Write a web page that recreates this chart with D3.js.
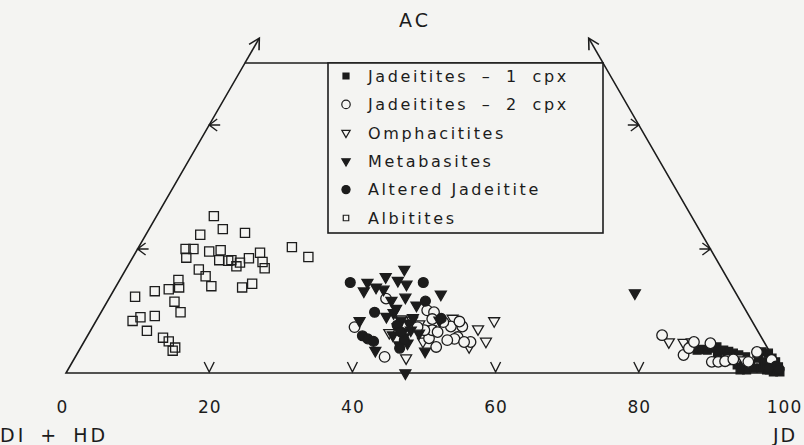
<!DOCTYPE html>
<html>
<head>
<meta charset="utf-8">
<script src="https://cdn.jsdelivr.net/npm/d3@7"></script>
<style>
  html, body { margin: 0; padding: 0; background: #f4f4f2; }
  svg { display: block; }
  text { font-family: "DejaVu Sans", sans-serif; fill: #1c1c1c; }
</style>
</head>
<body>
<div id="chart"></div>
<script>
// Ternary points as [JD, AC] in percent (DI + HD is the rest)
const jadeitites1 = [
    [86.3, 3.7], [86.9, 3.8], [87.7, 3.7], [88.8, 4.2], [90.0, 3.7], [91.6, 3.2], [92.5, 2.9],
    [93.6, 2.6], [94.9, 3.2], [95.5, 3.4], [96.5, 3.2], [97.4, 2.4], [98.2, 1.8], [99.0, 1.0],
    [99.6, 0.2], [98.7, 0.2], [97.6, 0.5], [96.6, 0.8], [95.6, 0.8], [94.8, 0.5], [93.9, 0.5],
    [93.1, 1.3], [93.5, 1.8], [88.2, 4.0], [90.8, 3.5], [94.9, 1.4], [96.5, 1.8], [98.4, 1.1],
    [89.5, 3.0], [91.0, 2.6], [95.5, 2.4], [97.0, 1.4], [98.0, 0.5], [92.4, 2.0]
];
const jadeitites2 = [
    [38.7, 12.0], [36.6, 7.4], [43.2, 2.6], [45.4, 10.1], [46.5, 9.8], [46.8, 8.7], [50.0, 7.5],
    [51.6, 7.5], [51.8, 5.8], [49.6, 4.2], [47.9, 5.6], [47.7, 6.9], [54.0, 5.0], [50.8, 8.3],
    [46.6, 6.9], [48.6, 6.6], [51.5, 5.5], [53.1, 5.0], [45.4, 7.4], [48.6, 8.2], [50.6, 5.3],
    [80.2, 6.1], [84.8, 2.9], [85.0, 4.0], [85.2, 5.0], [87.6, 4.8], [89.3, 1.8], [90.2, 1.8],
    [91.1, 1.9], [92.1, 2.2], [94.4, 1.8], [94.8, 3.4], [97.5, 2.1]
];
const omphacitites = [
    [55.6, 8.4], [54.0, 7.1], [56.1, 5.1], [46.3, 2.4], [41.9, 6.5], [45.4, 7.9], [49.6, 8.8],
    [47.4, 7.1], [44.1, 8.5], [54.2, 4.2], [42.5, 8.7], [47.3, 5.1],
    [81.7, 5.0], [83.8, 4.9], [84.9, 5.0], [92.7, 2.4], [93.6, 2.1], [91.5, 2.4]
];
const metabasites = [
    [38.9, 16.7], [36.9, 15.5], [38.9, 14.9], [40.4, 14.3], [34.8, 14.6], [35.0, 13.2], [36.4, 13.8],
    [37.6, 13.5], [46.0, 12.7], [41.3, 12.2], [43.5, 10.9], [40.9, 10.4], [40.9, 9.7], [36.8, 8.4],
    [40.2, 9.1], [41.4, 3.6], [48.4, 3.5], [47.4, 0.0], [42.5, 8.5], [43.9, 8.0], [42.6, 7.4],
    [43.7, 6.6], [44.7, 6.9], [44.3, 5.8], [45.3, 4.8], [44.3, 4.5], [42.6, 6.1], [46.1, 6.4],
    [47.9, 8.5], [73.0, 12.9], [39.6, 11.7], [44.0, 8.9]
];
const alteredJadeitite = [
    [32.4, 14.6], [42.6, 14.6], [44.4, 11.6], [38.2, 9.8], [38.4, 6.0], [39.4, 5.5], [40.4, 5.1],
    [48.0, 8.8], [44.6, 5.3], [42.4, 7.7], [43.5, 6.6], [44.6, 4.0], [98.6, 1.1], [99.3, 0.6],
    [97.7, 0.8]
];
const albitites = [
    [8.0, 25.3], [10.3, 23.2], [13.7, 22.6], [7.6, 22.3], [21.4, 20.3], [24.5, 18.7], [6.7, 20.0],
    [7.8, 20.0], [7.5, 18.6], [10.2, 19.6], [11.7, 19.8], [12.3, 18.2], [13.6, 18.1], [14.0, 18.2],
    [15.2, 17.2], [15.4, 17.8], [16.3, 18.5], [17.4, 19.4], [18.5, 17.9], [19.3, 16.9], [10.2, 16.7],
    [11.7, 15.6], [13.3, 14.0], [17.7, 13.8], [18.8, 14.4], [8.2, 15.0], [8.9, 13.8], [7.6, 13.5],
    [5.8, 13.2], [3.5, 12.3], [9.4, 11.5], [11.1, 9.8], [7.8, 9.2], [5.9, 9.0], [5.1, 8.4],
    [7.9, 6.8], [10.7, 5.7], [11.8, 5.1], [13.2, 4.1], [13.1, 3.6]
];

const legendLabels = ["Jadeitites \u2013 1 cpx", "Jadeitites \u2013 2 cpx", "Omphacitites",
    "Metabasites", "Altered Jadeitite", "Albitites"];
const baseTicks = [0, 20, 40, 60, 80, 100];
const arrowTicks = [20, 40, 60, 80];
const edgeTicks = [20, 40];
const acTop = 50;
const acArrow = 54;

// Page size and diagram frame
const width = 804, height = 445;
const x0 = 66, y0 = 373, side = 716;
const ink = "#1c1c1c";
const bg = "#f4f4f2";

const svg = d3.select("#chart").append("svg")
    .attr("width", width)
    .attr("height", height);

const jdScale = d3.scaleLinear().domain([0, 100]).range([x0, x0 + side]);
const acScale = d3.scaleLinear().domain([0, 100]).range([y0, y0 - side * Math.sqrt(3) / 2]);

// ternary -> screen
function proj(jd, ac) {
    return [jdScale(jd + ac / 2), acScale(ac)];
}

const line = d3.line();

// Truncated triangle
svg.append("path")
    .attr("d", line([proj(0, 0), proj(100, 0), proj(100 - acTop, acTop), proj(0, acTop)]) + "Z")
    .attr("fill", "none")
    .attr("stroke", ink)
    .attr("stroke-width", 1.6);

// Edges continue up to arrow heads
[[proj(0, acTop), proj(0, acArrow)], [proj(100 - acTop, acTop), proj(100 - acArrow, acArrow)]]
    .forEach(([a, b]) => {
        svg.append("path").attr("d", line([a, b]))
            .attr("stroke", ink).attr("stroke-width", 1.6).attr("fill", "none");
        const ang = Math.atan2(a[1] - b[1], a[0] - b[0]);
        const head = [-0.5, 0.5].map(t => [b[0] + 12 * Math.cos(ang + t), b[1] + 12 * Math.sin(ang + t)]);
        svg.append("path").attr("d", line([head[0], b, head[1]]))
            .attr("stroke", ink).attr("stroke-width", 1.6).attr("fill", "none");
    });

// Chevron marks on the base
svg.selectAll(".baseMark")
    .data(arrowTicks)
    .enter().append("path")
    .attr("class", "baseMark")
    .attr("d", d => {
        const x = jdScale(d);
        return line([[x - 5, y0 - 11], [x, y0 - 1], [x + 5, y0 - 11]]);
    })
    .attr("fill", "none").attr("stroke", ink).attr("stroke-width", 1.4);

// Arrow marks on the two side edges
edgeTicks.forEach(ac => {
    const l = proj(0, ac);
    svg.append("path")
        .attr("d", line([[l[0] + 8, l[1] - 6], l, [l[0] + 8, l[1] + 6]]) + "M" + l[0] + "," + l[1] + "h11")
        .attr("fill", "none").attr("stroke", ink).attr("stroke-width", 1.4);
    const r = proj(100 - ac, ac);
    svg.append("path")
        .attr("d", line([[r[0] - 8, r[1] - 6], r, [r[0] - 8, r[1] + 6]]) + "M" + r[0] + "," + r[1] + "h-11")
        .attr("fill", "none").attr("stroke", ink).attr("stroke-width", 1.4);
});

// Base labels
const axis = svg.append("g")
    .attr("transform", `translate(0,${y0})`)
    .call(d3.axisBottom(jdScale).tickValues(baseTicks).tickSize(0).tickPadding(28));
axis.select(".domain").remove();
axis.selectAll("text")
    .style("font-family", "\"DejaVu Sans\", sans-serif")
    .style("font-size", "17px")
    .style("letter-spacing", "1px")
    .attr("fill", ink)
    .attr("dx", d => d === 0 ? -4 : d === 100 ? 2 : 0);

// Apex / corner names
svg.append("text").attr("x", 415).attr("y", 27).attr("text-anchor", "middle")
    .style("font-size", "19px").style("letter-spacing", "3px").text("AC");
svg.append("text").attr("x", 0).attr("y", 442)
    .style("font-size", "19px").style("letter-spacing", "3px").style("word-spacing", "5px")
    .text("DI + HD");
svg.append("text").attr("x", 773).attr("y", 442)
    .style("font-size", "19px").style("letter-spacing", "2px").text("JD");

// Marker styles per series
const sym = d3.symbol();
const series = [
    { data: jadeitites1, type: d3.symbolSquare, size: 64, fill: ink, rot: 0, lsize: 36 },
    { data: jadeitites2, type: d3.symbolCircle, size: 88, fill: bg, rot: 0, lsize: 56 },
    { data: omphacitites, type: d3.symbolTriangle, size: 52, fill: bg, rot: 180, lsize: 30 },
    { data: metabasites, type: d3.symbolTriangle, size: 52, fill: ink, rot: 180, lsize: 30 },
    { data: alteredJadeitite, type: d3.symbolCircle, size: 76, fill: ink, rot: 0, lsize: 52 },
    { data: albitites, type: d3.symbolSquare, size: 84, fill: "none", rot: 0, lsize: 30 }
];
const drawOrder = [0, 2, 1, 3, 4, 5];

drawOrder.forEach(i => {
    const s = series[i];
    svg.append("g").selectAll("path")
        .data(s.data)
        .enter().append("path")
        .attr("d", sym.type(s.type).size(s.size)())
        .attr("transform", d => {
            const p = proj(d[0], d[1]);
            return `translate(${p[0]},${p[1]}) rotate(${s.rot})`;
        })
        .attr("fill", s.fill)
        .attr("stroke", ink)
        .attr("stroke-width", 1.3);
});

// Legend box
const legTop = acScale(acTop);
const legRight = proj(100 - acTop, acTop)[0];
svg.append("rect")
    .attr("x", 328).attr("y", legTop)
    .attr("width", legRight - 328).attr("height", 233 - legTop)
    .attr("fill", bg).attr("stroke", ink).attr("stroke-width", 1.6);

const rows = svg.selectAll(".legRow")
    .data(series)
    .enter().append("g")
    .attr("class", "legRow")
    .attr("transform", (d, i) => `translate(346,${76 + i * 28.4})`);

rows.append("path")
    .attr("d", d => sym.type(d.type).size(d.lsize)())
    .attr("transform", d => `rotate(${d.rot})`)
    .attr("fill", d => d.fill)
    .attr("stroke", ink)
    .attr("stroke-width", 1.2);

// the cpx labels have wide gaps round the dash
rows.append("text")
    .attr("x", 22)
    .attr("dy", "0.36em")
    .style("font-size", "16px")
    .style("letter-spacing", "2.6px")
    .style("word-spacing", (d, i) => i < 2 ? "6px" : "0px")
    .text((d, i) => legendLabels[i]);
</script>
</body>
</html>
